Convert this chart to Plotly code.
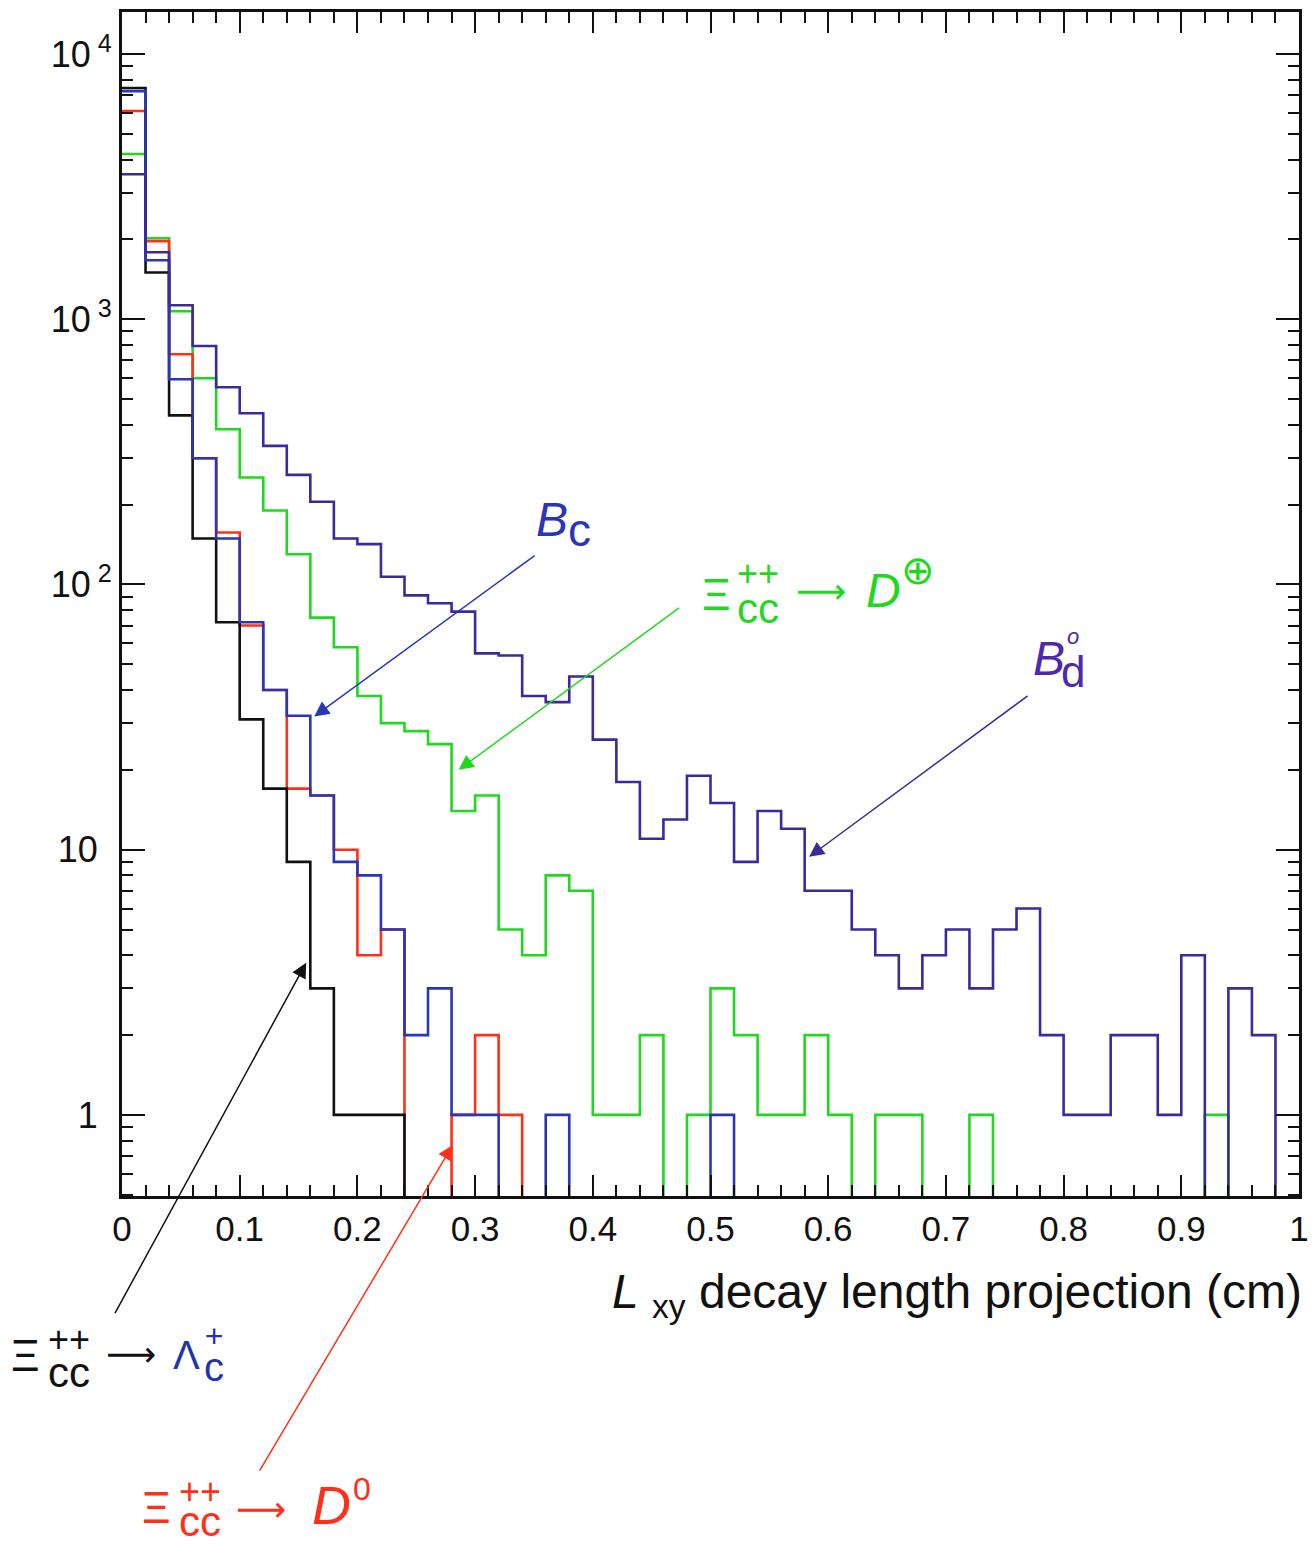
import numpy as np
import plotly.graph_objects as go

# ---- histogram contents: 50 bins of 0.02 cm between 0 and 1 cm ----
bin_edges = np.round(np.linspace(0.0, 1.0, 51), 2)

xi_to_lambda_c = [7450, 1500, 434, 149, 72, 31, 17, 9, 3, 1,
                  1, 1, 0, 0, 0, 0, 0, 0, 0, 0,
                  0, 0, 0, 0, 0, 0, 0, 0, 0, 0,
                  0, 0, 0, 0, 0, 0, 0, 0, 0, 0,
                  0, 0, 0, 0, 0, 0, 0, 0, 0, 0]

xi_to_d0 = [6100, 1970, 738, 299, 157, 70, 40, 17, 16, 10,
            4, 5, 0, 0, 1, 2, 1, 0, 0, 0,
            0, 0, 0, 0, 0, 0, 0, 0, 0, 0,
            0, 0, 0, 0, 0, 0, 0, 0, 0, 0,
            0, 0, 0, 0, 0, 0, 0, 0, 0, 0]

b_c = [7250, 1670, 594, 299, 149, 72, 40, 32, 16, 9,
       8, 5, 2, 3, 1, 1, 0, 0, 1, 0,
       0, 0, 0, 0, 0, 1, 0, 0, 0, 0,
       0, 0, 0, 0, 0, 0, 0, 0, 0, 0,
       0, 0, 0, 0, 0, 0, 0, 0, 0, 0]

xi_to_dplus = [4200, 2020, 1072, 599, 385, 253, 190, 130, 75, 58,
               38, 30, 28, 25, 14, 16, 5, 4, 8, 7,
               1, 1, 2, 0, 1, 3, 2, 1, 1, 2,
               1, 0, 1, 1, 0, 0, 1, 0, 0, 0,
               0, 0, 0, 0, 0, 0, 1, 0, 0, 0]

b_d = [3520, 1790, 1130, 793, 554, 442, 333, 259, 205, 149,
       142, 107, 91, 85, 79, 55, 54, 38, 36, 45,
       26, 18, 11, 13, 19, 15, 9, 14, 12, 7,
       7, 5, 4, 3, 4, 5, 3, 5, 6, 2,
       1, 1, 2, 2, 1, 4, 0, 3, 2, 0]

x_tick_vals = [0, 0.1, 0.2, 0.3, 0.4, 0.5, 0.6, 0.7, 0.8, 0.9, 1]
x_tick_text = ["0", "0.1", "0.2", "0.3", "0.4", "0.5", "0.6", "0.7", "0.8", "0.9", "1"]
y_tick_vals = [1, 10, 100, 1000, 10000]
y_tick_text = ["1<sup>\u2007</sup>", "10<sup>\u2007</sup>",
               "10<sup> 2</sup>", "10<sup> 3</sup>", "10<sup> 4</sup>"]

# ---- colours ----
C_BLACK = "#111111"
C_RED = "#ff3019"
C_GREEN = "#1fd81f"
C_BC = "#2a36b4"
C_BD = "#3c2a9c"
C_BD_TXT = "#4b2aae"
C_LAMBDA = "#2233b0"

FONT = "Liberation Sans, Arial, Helvetica, sans-serif"
ARROW_FONT = "DejaVu Sans, sans-serif"

# frame geometry (pixels)
W, H = 1316, 1544
L, R, T, B = 122, 1309, 12, 1196
Y_LO, Y_HI = -0.3057, 4.1585
X_STRETCH = 1.006  # horizontal placement factor for free-standing labels

ZERO_FLOOR = 0.05  # empty bins drop below the visible range


def step_xy(counts):
    y = [c if c > 0 else ZERO_FLOOR for c in counts]
    return list(bin_edges), y + [y[-1]]


fig = go.Figure()

for counts, colour, name in [
    (xi_to_dplus, C_GREEN, "Ξcc++ → D+"),
    (xi_to_d0, C_RED, "Ξcc++ → D0"),
    (xi_to_lambda_c, C_BLACK, "Ξcc++ → Λc+"),
    (b_c, C_BC, "Bc"),
    (b_d, C_BD, "Bd0"),
]:
    xs, ys = step_xy(counts)
    fig.add_trace(go.Scatter(x=xs, y=ys, mode="lines", name=name,
                             line=dict(color=colour, width=2.6, shape="hv"),
                             showlegend=False, hoverinfo="skip"))


def paper(px, py):
    return (px * X_STRETCH - L) / (R - L), (B - py) / (B - T)


annotations = []


def text_at(txt, px, py, size, colour, italic=False, lower=False,
            xanchor="center", family=FONT):
    if lower:
        py -= 0.09 * size
    xp, yp = paper(px, py)
    if italic:
        txt = "<i>" + txt + "</i>"
    annotations.append(dict(text=txt, x=xp, y=yp, xref="paper", yref="paper",
                            xanchor=xanchor, yanchor="middle", showarrow=False,
                            font=dict(family=family, size=size, color=colour)))


def stacked(top, top_size, bottom, bottom_size, px, base_top, base_bottom, colour):
    """Superscript above subscript, sharing one text block."""
    line_font = (base_bottom - base_top) / 1.3
    box_top = base_top - 0.905 * top_size
    box_bottom = base_bottom + 0.212 * bottom_size
    xp, yp = paper(px, 0.5 * (box_top + box_bottom))
    txt = (f"<span style='font-size:{top_size}px'>{top}</span><br>"
           f"<span style='font-size:{bottom_size}px'>{bottom}</span>")
    annotations.append(dict(text=txt, x=xp, y=yp, xref="paper", yref="paper",
                            xanchor="center", yanchor="middle", align="center",
                            showarrow=False,
                            font=dict(family=FONT, size=line_font, color=colour)))


def arrow(x, y, ax, ay, colour):
    annotations.append(dict(text="", x=x, y=np.log10(y), xref="x", yref="y",
                            ax=ax, ay=ay, showarrow=True, arrowhead=2,
                            arrowsize=2.0, arrowwidth=1.5, arrowcolor=colour))


# B_c
text_at("B", 552, 519, 48, C_BC, italic=True)
text_at("c", 580, 534, 46, C_BC, lower=True)
arrow(0.1633, 31.8, 222, -162, C_BC)

# Xi_cc++ -> D+
text_at("Ξ", 717, 594, 44, C_GREEN)
stacked("++", 36, "cc", 42, 759, 586, 623, C_GREEN)
text_at("⟶", 822, 591, 35, C_GREEN, family=ARROW_FONT)
text_at("D", 885, 590, 48, C_GREEN, italic=True)
text_at("⊕", 919, 570, 40, C_GREEN)
arrow(0.286, 20.0, 222, -163, C_GREEN)

# B_d0
text_at("B", 1051, 658, 48, C_BD_TXT, italic=True)
stacked("<i>o</i>", 22, "d", 44, 1075, 644, 687, C_BD_TXT)
arrow(0.5838, 9.4, 220, -162, C_BD)

# Xi_cc++ -> Lambda_c+
text_at("Ξ", 25, 1355, 44, C_BLACK)
stacked("++", 36, "cc", 42, 68, 1352, 1387, C_BLACK)
text_at("⟶", 130, 1354, 35, C_BLACK, family=ARROW_FONT)
text_at("Λ", 186, 1355, 40, C_LAMBDA)
stacked("+", 32, "c", 40, 213, 1347, 1381, C_LAMBDA)
arrow(0.1565, 3.75, -192, 352, C_BLACK)

# Xi_cc++ -> D0
text_at("Ξ", 156, 1507, 44, C_RED)
stacked("++", 36, "cc", 42, 199, 1504, 1536, C_RED)
text_at("⟶", 261, 1509, 35, C_RED, family=ARROW_FONT)
text_at("D", 331, 1505, 54, C_RED, italic=True)
text_at("0", 362, 1489, 32, C_RED)
arrow(0.281, 0.77, -194, 327, C_RED)

# x-axis title, right aligned to the frame
text_at("<i>L</i> <sub>xy</sub> decay length projection (cm)", 1306, 1295, 48,
        C_BLACK, xanchor="right")

minor_y = [m * 10 ** e for e in range(-1, 5) for m in range(2, 10)]

fig.update_layout(
    width=W, height=H,
    margin=dict(l=L, r=W - R, t=T, b=H - B, pad=0),
    paper_bgcolor="white", plot_bgcolor="white",
    font=dict(family=FONT, size=35, color=C_BLACK),
    annotations=annotations,
    xaxis=dict(range=[0, 1], showgrid=False, zeroline=False,
               showline=True, linewidth=3, linecolor=C_BLACK, mirror="allticks",
               ticks="inside", ticklen=21, tickwidth=1.8, tickcolor=C_BLACK,
               tickvals=x_tick_vals, ticktext=x_tick_text,
               tickfont=dict(size=35), ticklabelstandoff=0,
               minor=dict(ticks="inside", ticklen=11, tickwidth=1.8,
                          tickcolor=C_BLACK, dtick=0.02, showgrid=False)),
    yaxis=dict(type="log", range=[Y_LO, Y_HI], showgrid=False, zeroline=False,
               showline=True, linewidth=3, linecolor=C_BLACK, mirror="allticks",
               ticks="inside", ticklen=23, tickwidth=1.8, tickcolor=C_BLACK,
               tickvals=y_tick_vals, ticktext=y_tick_text,
               tickfont=dict(size=36), ticklabelstandoff=0,
               minor=dict(ticks="inside", ticklen=11, tickwidth=1.8,
                          tickcolor=C_BLACK, tickvals=minor_y, showgrid=False)),
)

fig.write_html("out.html")
